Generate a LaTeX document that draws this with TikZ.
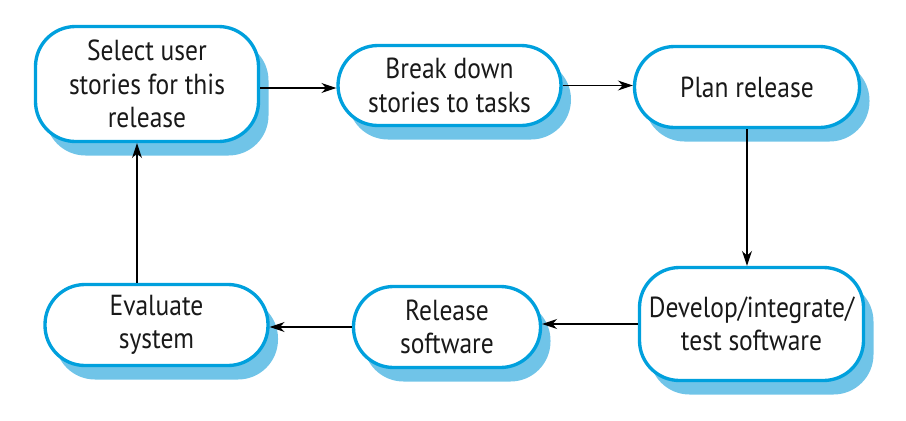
\documentclass[tikz,border=0pt]{standalone}
\usepackage{fontspec}
\setmainfont{PT Sans}[FakeStretch=0.88]
\usetikzlibrary{arrows.meta,shadows}
\definecolor{boxblue}{RGB}{0,160,221}
\definecolor{shadeblue}{RGB}{112,196,232}

\def\px{0.02cm}
\def\bw{223*\px}
\tikzstyle{b}=[draw=boxblue,fill=white,line width=1.9pt,rounded corners=0.8cm,align=center,inner sep=2pt,text=black!90,font=\fontsize{16.5}{19}\selectfont,drop shadow={shadow xshift=0.2cm,shadow yshift=-0.28cm,fill=shadeblue,opacity=1}]
\tikzstyle{edge}=[-{Stealth[length=0.3cm,width=0.2cm]},draw,line width=0.75pt]

\begin{document}
\begin{tikzpicture}[x=0.02cm,y=-0.02cm]
			\useasboundingbox (0,0) rectangle (906,420);
			\node[b,minimum width=\bw,minimum height=115*\px](1) at (147,84){Select user\\stories for this\\release};
			\node[b,minimum width=\bw,minimum height=80*\px](2) at (449.5,85.5){Break down\\stories to tasks};
			\node[b,minimum width=225*\px,minimum height=81*\px](3) at (747,87){Plan release};
			\node[b,minimum width=224*\px,minimum height=113*\px](4) at (751.5,324){Develop/integrate/\\test software};
			\node[b,minimum width=187*\px,minimum height=81*\px](5) at (447,327){Release\\software};
			\node[b,minimum width=\bw,minimum height=81*\px](6) at (156.5,325){Evaluate\\system};
			\draw[edge]([yshift=-4*\px]1.east)--([yshift=-4*\px]2.west |- 1.east);
			\draw[edge](2.east)--(3.west |- 2.east);
			\draw[edge](3.south)--(4.north -| 3.south);
			\draw[edge](4.west)--(5.east |- 4.west);
			\draw[edge](5.west)--(6.east |- 5.west);
			\draw[edge]([xshift=-10*\px]6.north -| 1.south)--([xshift=-10*\px]1.south);
		\end{tikzpicture}
\end{document}
